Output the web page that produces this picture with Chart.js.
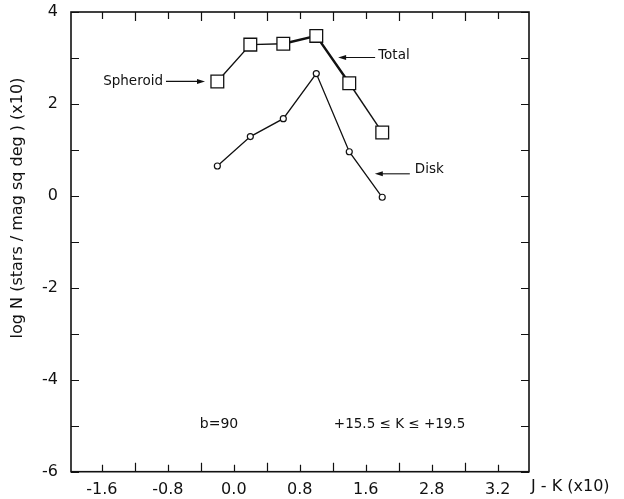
<!DOCTYPE html>
<html>
<head>
<meta charset="utf-8">
<title>log N vs J-K</title>
<script src="https://cdn.jsdelivr.net/npm/chart.js@4.4.0/dist/chart.umd.min.js"></script>
<style>
    html, body { margin: 0; padding: 0; background: #fff; }
    canvas { display: block; }
</style>
</head>
<body>
<canvas id="lf" width="624" height="499"></canvas>
<script>
// Data ================================================================================================================
// J-K colour bins (x10)
const jk = [-0.2, 0.2, 0.6, 1.0, 1.4, 1.8];
// log N (stars / mag sq deg) (x10)
const totalLogN = [2.49, 3.29, 3.31, 3.48, 2.45, 1.38];
const diskLogN = [0.65, 1.29, 1.68, 2.66, 0.96, -0.03];

// axis ticks and their printed labels
const xTickValues = [-1.6, -1.2, -0.8, -0.4, 0.0, 0.4, 0.8, 1.2, 1.6, 2.0, 2.4, 2.8, 3.2];
const xTickLabels = ['-1.6', '', '-0.8', '', '0.0', '', '0.8', '', '1.6', '', '2.8', '', '3.2'];
const yTickValues = [-6, -5, -4, -3, -2, -1, 0, 1, 2, 3, 4];
const yTickLabels = ['-6', '', '-4', '', '-2', '', '0', '', '2', '', '4'];

const xTitle = 'J - K (x10)';
const yTitle = 'log N (stars / mag sq deg ) (x10)';
const fieldNote = 'b=90';
const rangeNote = '+15.5 \u2264 K \u2264 +19.5';
// =====================================================================================================================

const FONT = '"DejaVu Sans", "Liberation Sans", sans-serif';
const INK = '#111';

function toXY(xs, ys) {
    return xs.map((x, i) => ({ x: x, y: ys[i] }));
}

// arrow with a small filled head at (x2, y2)
function arrow(ctx, x1, y1, x2, y2) {
    const dir = Math.sign(x2 - x1);
    ctx.beginPath();
    ctx.moveTo(x1, y1);
    ctx.lineTo(x2 - dir * 5, y2);
    ctx.stroke();
    ctx.beginPath();
    ctx.moveTo(x2, y2);
    ctx.lineTo(x2 - dir * 8, y2 - 2.5);
    ctx.lineTo(x2 - dir * 8, y2 + 2.5);
    ctx.closePath();
    ctx.fill();
}

// frame, inward ticks, titles and labels
const framePlugin = {
    id: 'frame',
    afterDraw(chart) {
        const { ctx, chartArea: a, scales } = chart;
        const sx = scales.x, sy = scales.y;
        ctx.save();
        ctx.strokeStyle = INK;
        ctx.fillStyle = INK;

        ctx.lineWidth = 1.6;
        ctx.strokeRect(a.left, a.top, a.right - a.left, a.bottom - a.top);

        ctx.lineWidth = 1.2;
        ctx.beginPath();
        xTickValues.forEach((v, i) => {
            const px = Math.round(sx.getPixelForValue(v)) + 0.5;
            const len = i % 2 ? 9 : 7;
            ctx.moveTo(px, a.bottom); ctx.lineTo(px, a.bottom - len);
            ctx.moveTo(px, a.top); ctx.lineTo(px, a.top + len);
        });
        yTickValues.forEach(v => {
            const py = Math.round(sy.getPixelForValue(v)) + 0.5;
            ctx.moveTo(a.left, py); ctx.lineTo(a.left + 8, py);
            ctx.moveTo(a.right, py); ctx.lineTo(a.right - 8, py);
        });
        ctx.stroke();

        // axis titles
        ctx.font = '16px ' + FONT;
        ctx.textBaseline = 'middle';
        ctx.textAlign = 'left';
        ctx.fillText(xTitle, a.right + 2, 487);

        ctx.save();
        ctx.translate(18, 208);
        ctx.rotate(-Math.PI / 2);
        ctx.textAlign = 'center';
        ctx.fillText(yTitle, 0, 0);
        ctx.restore();

        // curve labels
        ctx.font = '13.5px ' + FONT;
        ctx.lineWidth = 1.1;

        let tx = sx.getPixelForValue(-0.35), ty = sy.getPixelForValue(totalLogN[0]);
        arrow(ctx, tx - 39, ty, tx, ty);
        ctx.textAlign = 'right';
        ctx.fillText('Spheroid', tx - 42, ty);

        tx = sx.getPixelForValue(1.265); ty = sy.getPixelForValue(3.01);
        arrow(ctx, tx + 37, ty, tx, ty);
        ctx.textAlign = 'left';
        ctx.fillText('Total', tx + 40, ty - 2);

        tx = sx.getPixelForValue(1.71); ty = sy.getPixelForValue(0.48);
        arrow(ctx, tx + 35, ty, tx, ty);
        ctx.fillText('Disk', tx + 40, ty - 4);

        // field and magnitude range
        ctx.textAlign = 'center';
        ctx.font = '14px ' + FONT;
        ctx.fillText(fieldNote, sx.getPixelForValue(-0.18), sy.getPixelForValue(-4.98));
        ctx.font = '13.5px ' + FONT;
        ctx.fillText(rangeNote, sx.getPixelForValue(2.01), sy.getPixelForValue(-4.98));

        ctx.restore();
    }
};

// no extra room for overhanging tick labels
function noOverhang(s) {
    s.paddingTop = 0;
    s.paddingBottom = 0;
    s.paddingLeft = 0;
    s.paddingRight = 0;
}

new Chart(document.getElementById('lf'), {
    type: 'line',
    data: {
        datasets: [
            {
                label: 'Total',
                data: toXY(jk, totalLogN),
                borderColor: INK,
                borderWidth: 1.4,
                pointStyle: 'rect',
                pointRadius: 9,
                pointBorderWidth: 1.3,
                pointBorderColor: INK,
                pointBackgroundColor: '#fff',
                segment: {
                    borderWidth: c => (c.p0DataIndex === 2 || c.p0DataIndex === 3) ? 2.4 : 1.4
                }
            },
            {
                label: 'Disk',
                data: toXY(jk, diskLogN),
                borderColor: INK,
                borderWidth: 1.3,
                pointStyle: 'circle',
                pointRadius: 3,
                pointBorderWidth: 1.2,
                pointBorderColor: INK,
                pointBackgroundColor: '#fff'
            }
        ]
    },
    options: {
        responsive: false,
        animation: false,
        layout: { padding: { left: 0, top: 12, right: 95, bottom: 0 } },
        plugins: {
            legend: { display: false },
            tooltip: { enabled: false }
        },
        scales: {
            x: {
                type: 'linear',
                min: -1.975,
                max: 3.58,
                afterBuildTicks: s => { s.ticks = xTickValues.map(v => ({ value: v })); },
                afterFit: s => { s.height = 27.3; noOverhang(s); },
                grid: { display: false, drawTicks: false, tickLength: 0 },
                border: { display: false },
                ticks: {
                    autoSkip: false,
                    maxRotation: 0,
                    padding: 9,
                    color: INK,
                    font: { family: FONT, size: 16 },
                    callback: (v, i) => xTickLabels[i]
                }
            },
            y: {
                type: 'linear',
                min: -6,
                max: 4,
                afterBuildTicks: s => { s.ticks = yTickValues.map(v => ({ value: v })); },
                afterFit: s => { s.width = 71; noOverhang(s); },
                grid: { display: false, drawTicks: false, tickLength: 0 },
                border: { display: false },
                ticks: {
                    autoSkip: false,
                    padding: 13,
                    color: INK,
                    font: { family: FONT, size: 16 },
                    callback: (v, i) => yTickLabels[i]
                }
            }
        }
    },
    plugins: [framePlugin]
});
</script>
</body>
</html>
